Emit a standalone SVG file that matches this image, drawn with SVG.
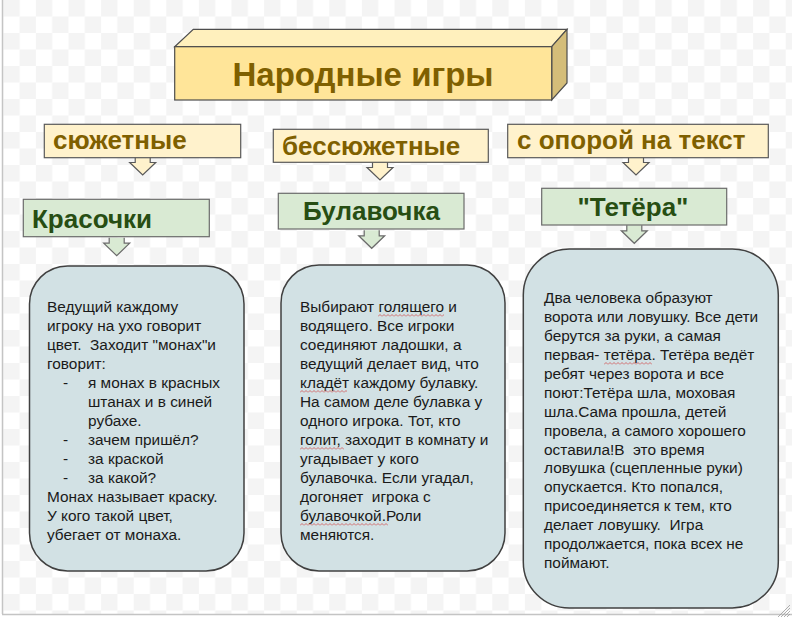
<svg xmlns="http://www.w3.org/2000/svg" width="792" height="619" viewBox="0 0 792 619">
<style>
.cat{fill:#fff2cc;stroke:#595959;stroke-width:1.2}
.cattxt{font-family:"Liberation Sans",Arial,sans-serif;font-weight:bold;font-size:26px;fill:#7f6000}
.gr{fill:#d9ead3;stroke:#6b6b6b;stroke-width:1.2}
.grtxt{font-family:"Liberation Sans",Arial,sans-serif;font-weight:bold;font-size:26px;fill:#274e13}
.card{fill:#d2e1e4;stroke:#404040;stroke-width:1.5}
.body{font-family:"Liberation Sans",Arial,sans-serif;font-size:15.4px;fill:#1a1a1a}
.arrY{fill:#fff2cc;stroke:#595959;stroke-width:1.2;stroke-linejoin:miter}
.arrG{fill:#d9ead3;stroke:#6b6b6b;stroke-width:1.2;stroke-linejoin:miter}
</style>
<defs>
<pattern id="chk" x="3.3" y="0" width="32.6" height="33" patternUnits="userSpaceOnUse">
<rect width="32.6" height="33" fill="#ffffff"/>
<rect width="16.3" height="16.5" fill="#f4f4f4"/>
<rect x="16.3" y="16.5" width="16.3" height="16.5" fill="#f4f4f4"/>
</pattern>
<pattern id="wavy" width="4" height="3" patternUnits="userSpaceOnUse">
<polyline points="0,2.5 2,0.5 4,2.5" fill="none" stroke="#d05050" stroke-width="0.8"/>
</pattern>
<path id="arrow" d="M-7.5,-18 L-7.5,-12.5 L-13,-12.5 L0,0 L13,-12.5 L7.5,-12.5 L7.5,-18"/>
</defs>
<rect width="792" height="619" fill="#ffffff"/>
<rect x="3" y="0" width="789" height="614" fill="url(#chk)"/>
<line x1="2.5" y1="0" x2="2.5" y2="614" stroke="#c4c4c4" stroke-width="1.5"/>
<line x1="2" y1="614.5" x2="792" y2="614.5" stroke="#c4c4c4" stroke-width="1.5"/>
<g stroke="#9a9a9a" stroke-width="0.8">
<line x1="778" y1="617" x2="790" y2="605"/>
<line x1="781" y1="617" x2="790" y2="608"/>
<line x1="784" y1="617" x2="790" y2="611"/>
<line x1="787" y1="617" x2="790" y2="614"/>
</g>

<g id="title">
<polygon points="174.7,46.7 193.3,29.3 567,29.3 551.7,46.7" fill="#fff0bd" stroke="#4d4d4d" stroke-width="1.2"/>
<polygon points="551.7,46.7 567,29.3 567,83 551.7,100" fill="#d4bd79" stroke="#4d4d4d" stroke-width="1.2"/>
<rect x="174.7" y="46.7" width="377" height="53.3" fill="#ffe599" stroke="#4d4d4d" stroke-width="1.2"/>
<text x="363" y="85.5" text-anchor="middle" font-family="Liberation Sans, Arial, sans-serif" font-weight="bold" font-size="33" fill="#7f6000">Народные игры</text>
</g>

<g id="connectors">
<use href="#arrow" class="arrY" transform="translate(142.7,175)"/>
<use href="#arrow" class="arrY" transform="translate(380,180)"/>
<use href="#arrow" class="arrY" transform="translate(636,175)"/>
<use href="#arrow" class="arrG" transform="translate(116.7,255.7)"/>
<use href="#arrow" class="arrG" transform="translate(371.7,248.3)"/>
<use href="#arrow" class="arrG" transform="translate(634.3,243.3)"/>
</g>

<g id="cat1">
<rect class="cat" x="44.3" y="124.3" width="196.4" height="33.4"/>
<text class="cattxt" x="53" y="149">сюжетные</text>
</g>
<g id="cat2">
<rect class="cat" x="273.3" y="129.3" width="215" height="33"/>
<text class="cattxt" x="282" y="155">бессюжетные</text>
</g>
<g id="cat3">
<rect class="cat" x="507.7" y="124.3" width="260.6" height="33.4"/>
<text class="cattxt" x="517" y="149">с опорой на текст</text>
</g>

<g id="game1">
<rect class="gr" x="23.3" y="199.3" width="186" height="37.4"/>
<text class="grtxt" x="32" y="228">Красочки</text>
</g>
<g id="game2">
<rect class="gr" x="278.3" y="193.3" width="185.7" height="35.7"/>
<text class="grtxt" x="303" y="220">Булавочка</text>
</g>
<g id="game3">
<rect class="gr" x="541.7" y="188.3" width="185" height="36.7"/>
<text class="grtxt" x="633" y="216" text-anchor="middle">"Тетёра"</text>
</g>

<g id="desc1">
<rect class="card" x="29.5" y="266" width="214.5" height="305" rx="38" ry="38"/>
<text class="body">
<tspan x="47" y="312">Ведущий каждому</tspan>
<tspan x="47" y="331">игроку на ухо говорит</tspan>
<tspan x="47" y="350" xml:space="preserve">цвет.  Заходит "монах"и</tspan>
<tspan x="47" y="369">говорит:</tspan>
<tspan x="63" y="388">-</tspan><tspan x="88" y="388">я монах в красных</tspan>
<tspan x="88" y="407">штанах и в синей</tspan>
<tspan x="88" y="426">рубахе.</tspan>
<tspan x="63" y="445">-</tspan><tspan x="88" y="445">зачем пришёл?</tspan>
<tspan x="63" y="464">-</tspan><tspan x="88" y="464">за краской</tspan>
<tspan x="63" y="483">-</tspan><tspan x="88" y="483">за какой?</tspan>
<tspan x="47" y="502">Монах называет краску.</tspan>
<tspan x="47" y="521">У кого такой цвет,</tspan>
<tspan x="47" y="540">убегает от монаха.</tspan>
</text>
</g>

<g id="desc2">
<rect class="card" x="281" y="265" width="224" height="306" rx="38" ry="38"/>
<text class="body">
<tspan x="300" y="312">Выбирают голящего и</tspan>
<tspan x="300" y="331">водящего. Все игроки</tspan>
<tspan x="300" y="350">соединяют ладошки, а</tspan>
<tspan x="300" y="369">ведущий делает вид, что</tspan>
<tspan x="300" y="388">кладёт каждому булавку.</tspan>
<tspan x="300" y="407">На самом деле булавка у</tspan>
<tspan x="300" y="426">одного игрока. Тот, кто</tspan>
<tspan x="300" y="445">голит, заходит в комнату и</tspan>
<tspan x="300" y="464">угадывает у кого</tspan>
<tspan x="300" y="483">булавочка. Если угадал,</tspan>
<tspan x="300" y="502" xml:space="preserve">догоняет  игрока с</tspan>
<tspan x="300" y="521">булавочкой.Роли</tspan>
<tspan x="300" y="540">меняются.</tspan>
</text>
<g transform="translate(378,314)"><rect width="66" height="3" fill="url(#wavy)"/></g>
<g transform="translate(300,390)"><rect width="47" height="3" fill="url(#wavy)"/></g>
<g transform="translate(300,447)"><rect width="44" height="3" fill="url(#wavy)"/></g>
<g transform="translate(300,523)"><rect width="88" height="3" fill="url(#wavy)"/></g>
</g>

<g id="desc3">
<rect class="card" x="523.3" y="249" width="255" height="359" rx="46" ry="46"/>
<text class="body">
<tspan x="544" y="303">Два человека образуют</tspan>
<tspan x="544" y="322">ворота или ловушку. Все дети</tspan>
<tspan x="544" y="341">берутся за руки, а самая</tspan>
<tspan x="544" y="360">первая- тетёра. Тетёра ведёт</tspan>
<tspan x="544" y="379">ребят через ворота и все</tspan>
<tspan x="544" y="397.5">поют:Тетёра шла, моховая</tspan>
<tspan x="544" y="416.5">шла.Сама прошла, детей</tspan>
<tspan x="544" y="435.5">провела, а самого хорошего</tspan>
<tspan x="544" y="454.5" xml:space="preserve">оставила!В  это время</tspan>
<tspan x="544" y="473">ловушка (сцепленные руки)</tspan>
<tspan x="544" y="492">опускается. Кто попался,</tspan>
<tspan x="544" y="511">присоединяется к тем, кто</tspan>
<tspan x="544" y="530" xml:space="preserve">делает ловушку.  Игра</tspan>
<tspan x="544" y="549">продолжается, пока всех не</tspan>
<tspan x="544" y="568">поймают.</tspan>
</text>
<g transform="translate(604,362)"><rect width="48" height="3" fill="url(#wavy)"/></g>
</g>
</svg>
